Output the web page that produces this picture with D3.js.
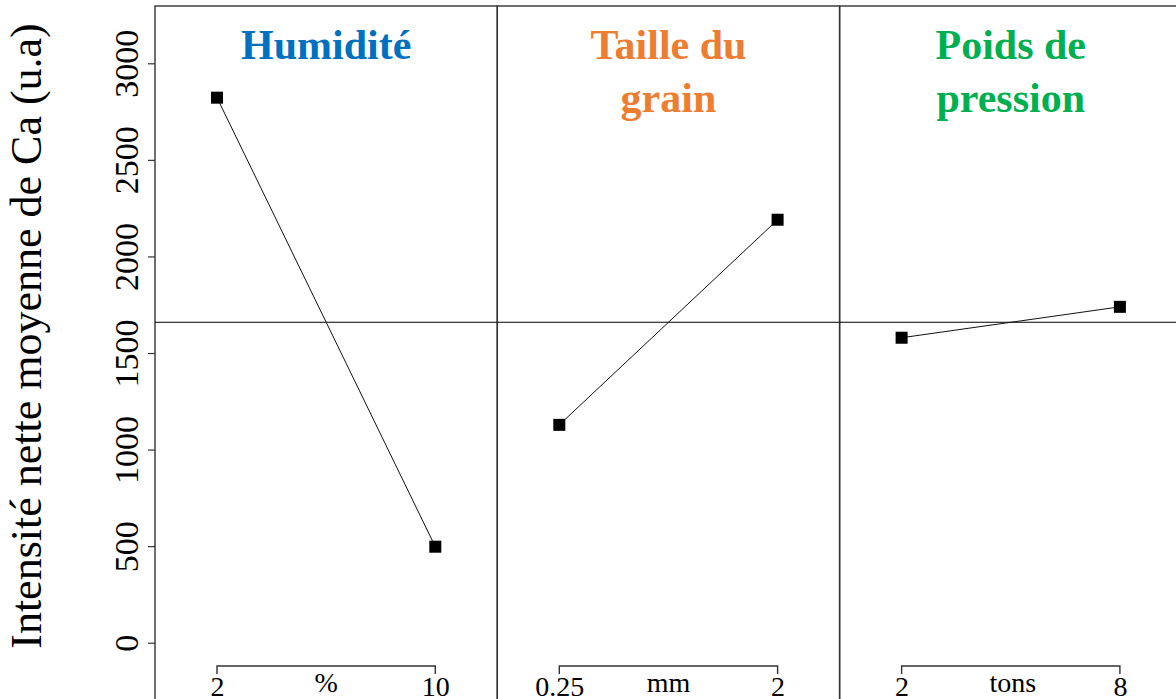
<!DOCTYPE html>
<html>
<head>
<meta charset="utf-8">
<script src="https://cdn.jsdelivr.net/npm/d3@7"></script>
<style>
  html, body { margin: 0; padding: 0; background: #fff; }
  svg { display: block; }
  svg text { font-family: "Liberation Serif", "Times New Roman", Times, serif; }
</style>
</head>
<body>
<svg id="chart" width="1176" height="699"></svg>
<script>
// Main effects of three factors on the mean net Ca intensity
const factorNames = ["Humidité", "Taille du grain", "Poids de pression"];
const titleLines = [["Humidité"], ["Taille du", "grain"], ["Poids de", "pression"]];
const titleColors = ["#0070C0", "#ED7D31", "#00B050"];
const levelLabels = [["2", "10"], ["0.25", "2"], ["2", "8"]];
const unitLabels = ["%", "mm", "tons"];
const humiditeMeans = [2822, 497];
const tailleMeans = [1128, 2190];
const poidsMeans = [1579, 1739];
const yTicks = [0, 500, 1000, 1500, 2000, 2500, 3000];
const yTitle = "Intensité nette moyenne de Ca (u.a)";

const seriesMeans = [humiditeMeans, tailleMeans, poidsMeans];
const grandMean = d3.mean(seriesMeans.flat());

const serif = '"Liberation Serif", "Times New Roman", Times, serif';
const svg = d3.select("#chart");
const frameLeft = 155, frameTop = 6, frameBottom = 720;
const panelW = 342.3, inset = 62;

const y = d3.scaleLinear().domain([0, 3000]).range([642.7, 63.3]);

const frameColor = "#333";

// y axis with rotated tick labels
const yAxis = svg.append("g")
  .attr("transform", `translate(${frameLeft},0)`)
  .call(d3.axisLeft(y).tickValues(yTicks).tickSize(7).tickFormat(d3.format("d")));
yAxis.select(".domain").remove();
yAxis.selectAll(".tick line").attr("stroke", frameColor).attr("stroke-width", 1.2);
yAxis.selectAll(".tick text")
  .style("font-family", serif)
  .attr("font-size", 34)
  .attr("fill", "#000")
  .attr("text-anchor", "middle")
  .attr("x", null).attr("dy", null).attr("y", 0)
  .attr("transform", "translate(-17,0) rotate(-90)");

// axis title
svg.append("text")
  .style("font-family", serif)
  .attr("transform", `translate(41,336) rotate(-90)`)
  .attr("text-anchor", "middle")
  .attr("font-size", 44)
  .attr("fill", "#000")
  .text(yTitle);

factorNames.forEach((name, i) => {
  const left = frameLeft + i * panelW;
  const right = left + panelW;
  const g = svg.append("g").attr("class", "panel");

  const x = d3.scalePoint().domain(levelLabels[i]).range([left + inset, right - inset]);

  // panel frame
  g.append("rect")
    .attr("x", left).attr("y", frameTop)
    .attr("width", panelW).attr("height", frameBottom - frameTop)
    .attr("fill", "none").attr("stroke", frameColor).attr("stroke-width", 1.4);

  // grand mean reference
  g.append("line")
    .attr("x1", left).attr("x2", right)
    .attr("y1", y(grandMean)).attr("y2", y(grandMean))
    .attr("stroke", "#000").attr("stroke-width", 1.2);

  // title
  const t = g.append("text")
    .style("font-family", serif)
    .attr("text-anchor", "middle")
    .attr("font-weight", "bold")
    .attr("font-size", 42)
    .attr("fill", titleColors[i]);
  titleLines[i].forEach((line, k) => {
    t.append("tspan").attr("x", (left + right) / 2).attr("y", 59 + k * 53).text(line);
  });

  const pts = levelLabels[i].map((lv, k) => ({ lv, v: seriesMeans[i][k] }));

  g.append("path")
    .datum(pts)
    .attr("fill", "none").attr("stroke", "#111").attr("stroke-width", 1)
    .attr("d", d3.line().x(d => x(d.lv)).y(d => y(d.v)));

  g.selectAll("rect.pt").data(pts).join("rect")
    .attr("class", "pt")
    .attr("x", d => x(d.lv) - 6).attr("y", d => y(d.v) - 6)
    .attr("width", 12).attr("height", 12)
    .attr("fill", "#000");

  // bracket axis below the panel
  const bx = svg.append("g")
    .attr("transform", "translate(0,666)")
    .call(d3.axisBottom(x).tickSize(-8).tickSizeOuter(0).tickPadding(0));
  bx.select(".domain").attr("stroke", frameColor).attr("stroke-width", 1.4)
    .attr("d", `M${x.range()[0]},8V0H${x.range()[1]}V8`);
  bx.selectAll(".tick line").remove();
  bx.selectAll(".tick text")
    .style("font-family", serif)
    .attr("font-size", 28).attr("fill", "#000")
    .attr("dy", null).attr("y", 30);

  g.append("text")
    .style("font-family", serif)
    .attr("x", (left + right) / 2 + (i === 2 ? 2 : 0)).attr("y", 692)
    .attr("text-anchor", "middle")
    .attr("font-size", 28).attr("fill", "#000")
    .text(unitLabels[i]);
});
</script>
</body>
</html>
